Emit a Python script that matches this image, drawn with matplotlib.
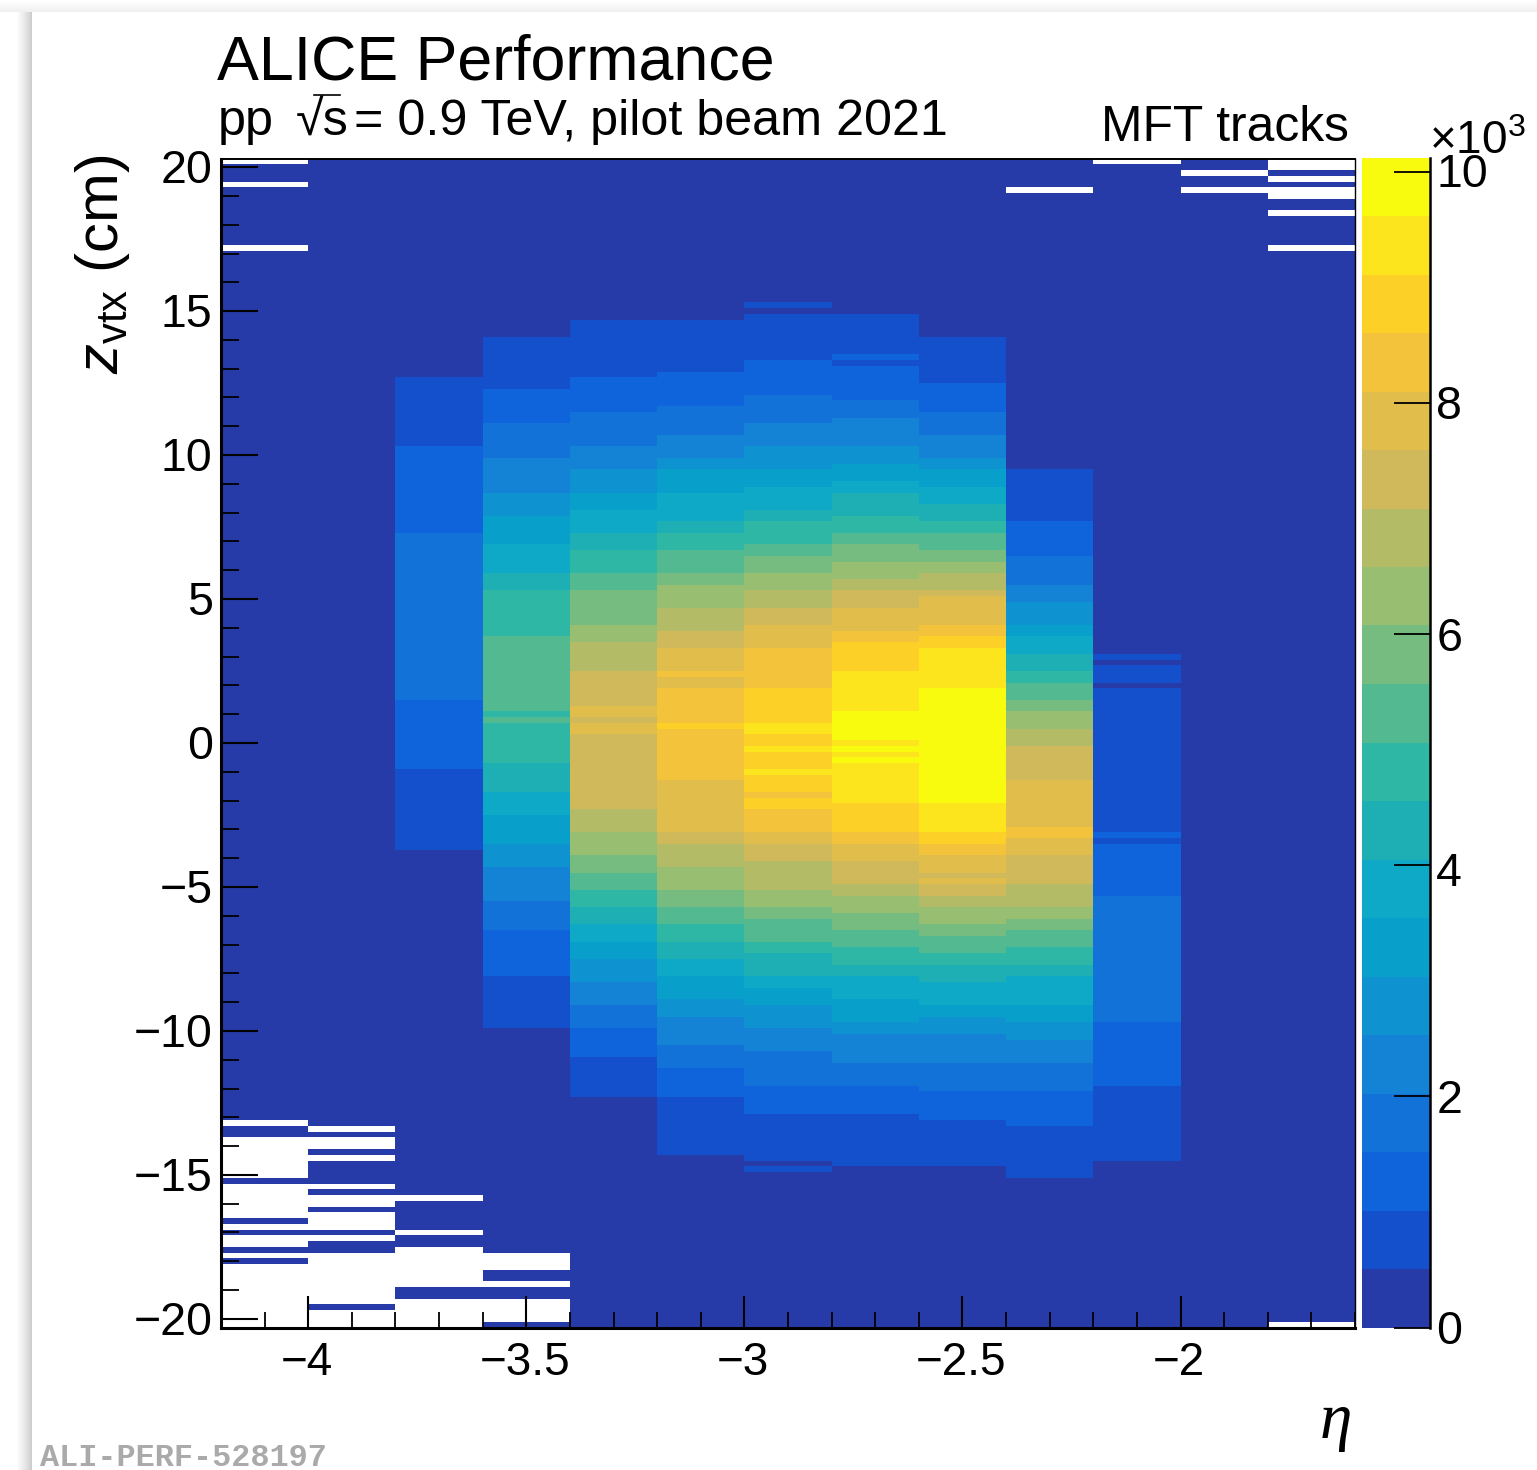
import numpy as np
import matplotlib
matplotlib.use("Agg")
import matplotlib.pyplot as plt
from matplotlib.colors import ListedColormap, BoundaryNorm
from matplotlib.lines import Line2D
from matplotlib.patches import Rectangle
from matplotlib.ticker import FixedLocator, MultipleLocator, NullFormatter
from matplotlib.transforms import ScaledTranslation

plt.rcParams['font.family'] = ['Liberation Sans', 'DejaVu Sans']
plt.rcParams['mathtext.fontset'] = 'custom'
plt.rcParams['mathtext.rm'] = 'Liberation Sans'
plt.rcParams['mathtext.it'] = 'Liberation Sans:italic'
plt.rcParams['mathtext.bf'] = 'Liberation Sans:bold'

# ---------- data ----------
eta_edges = [-4.2, -4.0, -3.8, -3.6, -3.4, -3.2, -3.0, -2.8, -2.6, -2.4, -2.2, -2.0, -1.8, -1.6]
z_top = 20.3
z_bin_width = 0.2
n_z_bins = 203
z_max_color = 10126.0
n_bands = 20

band_colors = ['#273ba8', '#1450cc', '#0f64dc', '#1272d8', '#1482d5', '#0e93d0', '#08a0cb', '#0da9c6',
               '#1dafb3', '#2eb7a4', '#53b991', '#76bc81', '#98be72', '#b3bb66', '#cfb95b', '#e1be4b',
               '#f3c43b', '#fdd027', '#fce51c', '#f9fb0e']

# each column: first z bin (counted from the top) of a run, and the colour band of that run
c00_bins = [0]; c00_bands = [0]
c01_bins = [0]; c01_bands = [0]
c02_bins = [0, 38, 50, 65, 94, 106, 120]
c02_bands = [0, 1, 2, 3, 2, 1, 0]
c03_bins = [0, 31, 40, 46, 52, 58, 62, 67, 72, 75, 83, 96, 97, 98, 105, 110, 114, 119, 123, 129, 134, 142, 151]
c03_bands = [0, 1, 2, 3, 4, 5, 6, 7, 8, 9, 10, 9, 10, 9, 8, 7, 6, 5, 4, 3, 2, 1, 0]
c04_bins = [0, 28, 38, 44, 50, 54, 58, 61, 65, 68, 72, 75, 81, 84, 89, 95, 97, 98, 100, 113, 117, 121, 124, 127,
            130, 133, 136, 139, 143, 147, 151, 156, 163]
c04_bands = [0, 1, 2, 3, 4, 5, 6, 7, 8, 9, 10, 11, 12, 13, 14, 15, 14, 15, 14, 13, 12, 11, 10, 9,
             8, 7, 6, 5, 4, 3, 2, 1, 0]
c05_bins = [0, 28, 37, 43, 48, 52, 54, 58, 63, 65, 68, 72, 74, 78, 82, 85, 89, 90, 92, 98, 99, 108, 117, 119, 123,
            127, 130, 133, 136, 139, 142, 146, 149, 154, 158, 163, 173]
c05_bands = [0, 1, 2, 3, 4, 5, 6, 7, 8, 9, 10, 11, 12, 13, 14, 15, 16, 15, 16, 17, 16, 15, 14, 13, 12,
             11, 10, 9, 8, 7, 6, 5, 4, 3, 2, 1, 0]
c06_bins = [0, 25, 26, 27, 35, 41, 46, 50, 54, 57, 61, 63, 67, 69, 72, 75, 78, 81, 85, 92, 98, 100, 102, 103, 106,
            107, 110, 111, 113, 117, 119, 122, 127, 130, 132, 136, 138, 142, 144, 147, 151, 155, 161, 166, 174, 175, 176]
c06_bands = [0, 1, 0, 1, 2, 3, 4, 5, 6, 7, 8, 9, 10, 11, 12, 13, 14, 15, 16, 17, 18, 17, 18, 17, 18,
             17, 16, 17, 16, 15, 14, 13, 12, 11, 10, 9, 8, 7, 6, 5, 4, 3, 2, 1, 0, 1, 0]
c07_bins = [0, 27, 34, 35, 36, 42, 45, 50, 53, 56, 58, 62, 65, 67, 70, 73, 75, 78, 82, 84, 89, 96, 101, 102, 103,
            104, 105, 112, 117, 119, 122, 126, 128, 131, 134, 137, 140, 142, 146, 150, 152, 157, 161, 166, 175]
c07_bands = [0, 1, 2, 1, 2, 3, 4, 5, 6, 7, 8, 9, 10, 11, 12, 13, 14, 15, 16, 17, 18, 19, 18, 19, 18,
             19, 18, 17, 16, 15, 14, 13, 12, 11, 10, 9, 8, 7, 6, 5, 4, 3, 2, 1, 0]
c08_bins = [0, 31, 39, 44, 48, 52, 54, 57, 60, 63, 65, 68, 70, 72, 75, 76, 81, 83, 85, 92, 112, 117, 119, 121, 124,
            125, 126, 128, 130, 133, 135, 138, 140, 143, 147, 149, 152, 157, 162, 167, 175]
c08_bands = [0, 1, 2, 3, 4, 5, 6, 7, 8, 9, 10, 11, 12, 13, 14, 15, 16, 17, 18, 19, 18, 17, 16, 15, 14,
             15, 14, 13, 12, 11, 10, 9, 8, 7, 6, 5, 4, 3, 2, 1, 0]
c09_bins = [0, 54, 63, 69, 74, 77, 81, 83, 86, 89, 91, 94, 96, 99, 102, 108, 116, 118, 121, 126, 130, 132, 134, 137,
            140, 142, 147, 150, 153, 157, 162, 168, 177]
c09_bands = [0, 1, 2, 3, 4, 5, 6, 7, 8, 9, 10, 11, 12, 13, 14, 15, 16, 15, 14, 13, 12, 11, 10, 9,
             8, 7, 6, 5, 4, 3, 2, 1, 0]
c10_bins = [0, 86, 87, 88, 91, 92, 117, 118, 119, 128, 150, 161, 174]
c10_bands = [0, 1, 0, 1, 0, 1, 2, 1, 2, 3, 2, 1, 0]
c11_bins = [0]; c11_bands = [0]
c12_bins = [0]; c12_bands = [0]

# empty z bins (drawn white)
c00_empty = [0, 4, 15, 167, 170, 171, 172, 173, 174, 175, 176, 178, 179, 180, 181, 182, 183, 185, 187, 188, 190,
             192, 193, 194, 195, 196, 197, 198, 199, 200, 201, 202]
c01_empty = [168, 170, 171, 173, 178, 180, 181, 183, 184, 185, 187, 190, 191, 192, 193, 194, 195, 196, 197, 198,
             200, 201, 202]
c02_empty = [180, 186, 189, 190, 191, 192, 193, 194, 195, 198, 199, 200, 201, 202]
c03_empty = [190, 191, 192, 195, 198, 199, 200, 201]
c09_empty = [5]
c10_empty = [0]
c11_empty = [2, 5]
c12_empty = [0, 1, 3, 5, 6, 9, 15, 202]

x_ticks = [-4, -3.5, -3, -2.5, -2]
x_labels = ['\u22124', '\u22123.5', '\u22123', '\u22122.5', '\u22122']
y_ticks = [-20, -15, -10, -5, 0, 5, 10, 15, 20]
y_labels = ['\u221220', '\u221215', '\u221210', '\u22125', '0', '5', '10', '15', '20']
cbar_ticks = [0, 2000, 4000, 6000, 8000, 10000]
cbar_labels = ['0', '2', '4', '6', '8', '10']

# ---------- build histogram ----------
band_width = z_max_color / n_bands
columns = [(c00_bins, c00_bands, c00_empty), (c01_bins, c01_bands, c01_empty), (c02_bins, c02_bands, c02_empty),
           (c03_bins, c03_bands, c03_empty), (c04_bins, c04_bands, []), (c05_bins, c05_bands, []),
           (c06_bins, c06_bands, []), (c07_bins, c07_bands, []), (c08_bins, c08_bands, []),
           (c09_bins, c09_bands, c09_empty), (c10_bins, c10_bands, c10_empty), (c11_bins, c11_bands, c11_empty),
           (c12_bins, c12_bands, c12_empty)]
H = np.zeros((n_z_bins, len(columns)))
for j, (bins, bands, empty) in enumerate(columns):
    stops = list(bins[1:]) + [n_z_bins]
    for start, stop, band in zip(bins, stops, bands, strict=True):
        H[start:stop, j] = (band + 0.5) * band_width
    H[empty, j] = np.nan
z_edges = z_top - z_bin_width * np.arange(n_z_bins + 1)

# ---------- figure ----------
W, H_px = 1537, 1470
fig = plt.figure(figsize=(W / 100, H_px / 100), dpi=100, facecolor='white')

# page shadow: soft strip left of the white page and a faint one above it
for i in range(16):
    shade = min(1.0, 0.80 + 0.2 * (i / 15) ** 0.8)
    fig.patches.append(Rectangle(((31 - i) / W, 0), 1 / W, 1, transform=fig.transFigure,
                                 facecolor=str(shade), edgecolor='none'))
for i in range(12):
    shade = 0.94 + 0.06 * (i / 11)
    fig.patches.append(Rectangle((0, 1 - (12 - i) / H_px), 1, 1 / H_px, transform=fig.transFigure,
                                 facecolor=str(shade), edgecolor='none'))


def ax_rect(x0, y0, x1, y1):
    return [x0 / W, 1 - y1 / H_px, (x1 - x0) / W, (y1 - y0) / H_px]


def ftext(x, y, s, **kw):
    return fig.text(x / W, 1 - y / H_px, s, **kw)


cmap = ListedColormap(band_colors)
cmap.set_bad('white')
levels = np.linspace(0, z_max_color, n_bands + 1)
norm = BoundaryNorm(levels, n_bands)

ax = fig.add_axes(ax_rect(221, 158.5, 1355, 1327.5))
mesh = ax.pcolormesh(eta_edges, z_edges, np.ma.masked_invalid(H), cmap=cmap, norm=norm,
                     edgecolors='none', antialiased=False)
ax.set_xlim(-4.2, -1.6)
ax.set_ylim(-z_top, z_top)

ax.xaxis.set_major_locator(FixedLocator(x_ticks))
ax.set_xticklabels(x_labels)
ax.xaxis.set_minor_locator(MultipleLocator(0.1))
ax.yaxis.set_major_locator(FixedLocator(y_ticks))
ax.set_yticklabels(y_labels)
ax.yaxis.set_minor_locator(MultipleLocator(1))
ax.xaxis.set_minor_formatter(NullFormatter())
ax.yaxis.set_minor_formatter(NullFormatter())
ax.tick_params(axis='x', which='major', direction='in', length=23, width=1.5, labelsize=33, pad=9.5)
ax.tick_params(axis='x', which='minor', direction='in', length=11.5, width=1.3)
ax.tick_params(axis='y', which='major', direction='in', length=26.5, width=1.5, labelsize=33.5, pad=6)
ax.tick_params(axis='y', which='minor', direction='in', length=13, width=1.3)
for name, lw in (('left', 2.2), ('bottom', 2.2), ('top', 1.4), ('right', 1.0)):
    ax.spines[name].set_linewidth(lw)
lift = ScaledTranslation(0, 1.0 / 100, fig.dpi_scale_trans)
for label in ax.get_yticklabels():
    label.set_transform(label.get_transform() + lift)
for label in ax.get_xticklabels():
    label.set_transform(label.get_transform() + ScaledTranslation(-1.5 / 100, 0, fig.dpi_scale_trans))

cax = fig.add_axes(ax_rect(1362, 157.5, 1430, 1327.5))
cb = fig.colorbar(mesh, cax=cax, spacing='proportional', drawedges=False)
cb.outline.set_visible(False)
cb.set_ticks(cbar_ticks, labels=cbar_labels)
cb.minorticks_off()
cax.spines['right'].set_visible(True)
cax.spines['right'].set_linewidth(1.8)
cax.tick_params(axis='y', which='major', direction='in', length=26, width=1.3, labelsize=33.5, pad=4.5)
cbar_label_shift = [0, 0, -4, 0, 1, 2]
for label, dy in zip(cax.get_yticklabels(), cbar_label_shift):
    label.set_transform(label.get_transform() + ScaledTranslation(0, dy / 100, fig.dpi_scale_trans))

# ---------- texts ----------
ftext(217, 80, 'ALICE Performance', fontsize=45.2, color='black', ha='left', va='baseline')
ftext(218, 135, 'pp', fontsize=36.2, ha='left', va='baseline')
ftext(296, 135, '\u221as', fontsize=36.2, ha='left', va='baseline')
fig.add_artist(Line2D([314 / W, 340 / W], [1 - 94.5 / H_px, 1 - 94.5 / H_px], color='black', lw=1.2))
ftext(354, 135, '= 0.9 TeV, pilot beam 2021', fontsize=36.2, ha='left', va='baseline')
ftext(1349, 141, 'MFT tracks', fontsize=35.8, ha='right', va='baseline')
ftext(1429, 154, r'$\times$10$^{3}$', fontsize=33, ha='left', va='baseline')
ftext(102, 155, r'$z_{\mathrm{vtx}}$ (cm)', fontsize=43, rotation=90, ha='center', va='top')
ftext(1336, 1438, '\u03b7', fontsize=47, family='Liberation Serif', style='italic', ha='center', va='baseline')
ftext(40, 1466, 'ALI-PERF-528197', fontsize=22.95, family='Liberation Mono', weight='bold',
      color='#aaaaaa', ha='left', va='baseline')

fig.savefig('out.png', dpi=100)
